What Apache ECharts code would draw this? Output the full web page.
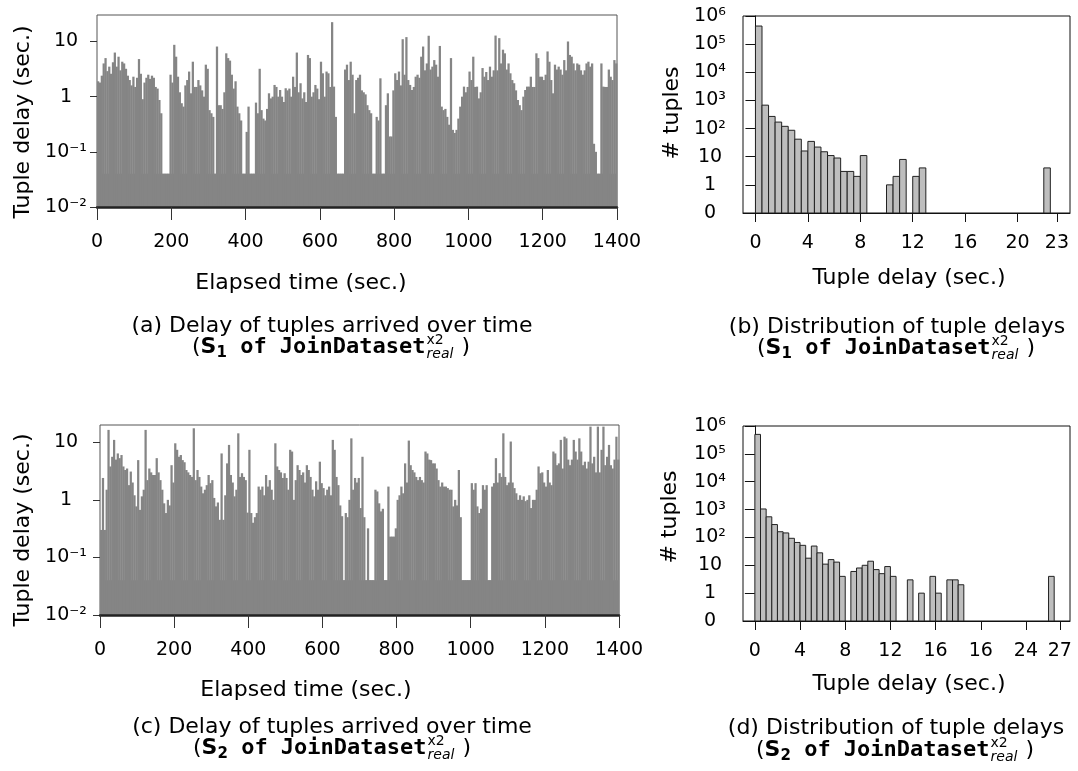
<!DOCTYPE html>
<html>
<head>
<meta charset="utf-8">
<script src="https://cdn.jsdelivr.net/npm/echarts@6/dist/echarts.min.js"></script>
<style>
  html, body { margin: 0; padding: 0; background: #fff; }
  #chart { width: 1078px; height: 771px; }
</style>
</head>
<body>
<div id="chart"></div>
<script>
// ---- data ----
// time series: max delay (sec.) in each 5 s bin, 0..1400 s
const binSec = 5;
const floorDelay = 0.04;
const delayS1 = [
  1.9,1.8,2.4,4.0,5.0,2.9,3.5,2.6,4.2,6.3,3.5,5.3,3.0,4.3,4.0,3.2,2.4,2.0,1.6,2.3,
  1.5,2.2,4.8,2.6,0.9,1.8,2.2,2.5,2.1,2.4,2.2,1.5,1.4,0.87,0.5,0.04,0.04,0.04,0.04,2.5,
  1.8,8.7,5.3,2.3,1.2,0.76,0.66,1.6,2.0,2.85,1.15,4.3,1.5,1.5,2.0,1.6,1.3,1.0,3.8,3.2,
  0.57,0.5,0.43,0.04,8.1,0.7,0.7,0.6,1.2,6.1,5.0,4.5,2.5,1.4,1.9,0.66,0.5,0.37,0.04,0.04,
  0.23,0.66,0.04,0.04,0.04,0.78,0.5,3.2,0.57,0.4,0.37,0.6,1.15,0.93,1.0,1.63,1.5,1.0,1.32,1.0,
  0.8,1.42,1.3,1.4,1.0,2.3,1.5,6.3,1.2,1.75,0.93,1.2,0.8,5.7,5.0,1.0,1.2,1.63,1.4,0.9,
  4.3,2.65,1.0,2.85,2.65,1.5,22.4,1.52,0.43,0.04,0.04,0.04,0.04,3.1,3.8,2.0,4.3,2.5,0.5,2.0,
  2.2,2.5,1.3,1.2,1.1,0.7,0.57,0.5,0.04,0.04,0.43,0.37,2.15,0.04,0.04,0.7,1.15,0.19,0.19,1.3,
  2.65,2.0,2.85,1.6,11,2.5,12,2.0,1.63,1.32,1.5,2.3,2.5,2.2,5.3,8.1,3.0,4.0,12.7,3.1,
  3.5,4.6,3.8,2.3,8.3,0.66,0.57,0.6,0.43,0.31,5.0,0.25,0.22,0.25,0.4,0.66,1.0,1.52,1.2,1.5,
  2.85,2.0,5.3,1.5,1.52,0.93,1.2,3.3,2.3,2.8,2.0,3.5,2.3,3.0,12.8,3.0,11.5,4.0,7.1,6.1,
  3.1,4.0,2.65,2.0,1.75,1.3,0.87,0.7,0.57,1.0,1.32,1.52,1.52,2.3,1.5,1.5,6.1,5.0,2.3,2.3,
  2.0,2.5,6.6,4.3,2.0,1.15,3.8,3.1,3.5,3.1,2.5,4.6,3.0,10,5.7,5.3,4.0,3.0,4.0,3.8,
  3.0,2.5,3.0,4.0,4.3,3.5,4.0,0.14,0.1,0.04,0.04,4.0,1.52,1.5,1.5,3.1,2.3,2.0,4.6,4.0
];
const delayS2 = [
  0.3,2.4,0.3,1.5,16.4,3.8,5.6,11,5.0,6.4,5.3,6.0,3.8,3.3,3.5,1.8,3.1,2.0,1.2,0.77,
  4.9,0.67,1.15,1.5,16.4,2.2,3.5,3.0,2.7,2.7,5.3,3.0,2.2,1.5,0.87,0.59,1.0,0.8,4.0,2.0,
  9.6,7.4,5.6,6.0,4.9,4.5,3.3,3.0,2.7,2.5,17.5,2.2,3.3,2.5,1.7,1.3,1.5,1.8,2.7,1.95,
  2.2,1.08,0.77,0.9,0.45,6.4,0.45,1.2,4.3,9.0,2.7,2.0,1.15,1.5,14.3,2.5,2.9,2.5,2.2,0.6,
  7.4,0.59,0.4,0.5,0.59,1.7,1.5,1.7,1.2,2.7,1.7,2.2,1.5,1.0,9.6,3.8,3.3,3.0,2.4,2.9,
  2.4,1.5,7.4,6.9,1.0,2.2,4.0,3.3,2.7,3.0,2.0,4.0,3.3,2.5,1.5,1.15,2.1,1.5,4.6,1.95,
  1.6,1.2,1.5,1.7,1.2,11,7.4,2.5,1.8,0.8,0.52,0.04,0.59,0.5,1.0,11.7,1.5,2.4,2.0,2.4,
  0.72,5.6,0.5,0.04,0.32,0.04,0.04,0.04,1.5,1.4,0.87,0.63,0.7,0.04,0.04,1.7,0.23,0.23,0.23,0.32,
  1.0,1.2,1.7,1.3,4.3,2.0,10.7,4.0,3.3,3.0,2.5,2.2,2.5,2.2,2.0,6.9,6.4,5.0,4.9,4.3,
  4.3,3.5,2.2,1.7,2.0,1.7,1.7,1.6,1.5,1.5,0.77,1.0,0.8,3.3,0.5,0.04,0.04,0.04,0.04,0.04,
  1.95,1.5,1.95,0.77,0.59,0.7,1.8,1.5,1.8,0.04,0.04,1.7,1.95,5.3,2.0,2.9,2.5,14.3,2.5,1.8,
  2.0,10.3,2.0,1.6,1.3,1.0,1.2,1.0,1.15,0.95,1.0,1.2,0.72,1.0,1.0,1.5,3.8,2.9,3.0,2.0,
  1.7,3.3,2.0,1.8,6.9,6.4,4.0,4.3,11,3.5,12.5,11.7,5.0,4.0,5.0,11,6.9,5.0,11.7,6.9,
  4.0,4.6,3.5,4.6,18.7,4.3,5.6,3.0,18.7,3.0,7.4,18.7,4.0,5.6,9.0,4.0,3.5,5.0,12.5,5.0
];

// histograms: 0.5 s bins (start of bin) and # tuples
const histBin = 0.5;
const binStartS1 = [0,0.5,1,1.5,2,2.5,3,3.5,4,4.5,5,5.5,6,6.5,7,7.5,8,10,10.5,11,12,12.5,22];
const countS1 = [440000,680,270,170,120,87,42,16,35,22,15,11,9,3,3,2,11,1,2,8,2,4,4];
const binStartS2 = [0,0.5,1,1.5,2,2.5,3,3.5,4,4.5,5,5.5,6,6.5,7,7.5,8.5,9,9.5,10,10.5,11,11.5,12,13.5,14.5,15.5,16,17,17.5,18,26];
const countS2 = [500000,1050,550,290,160,145,93,66,52,18,49,28,11,16,13,4,6,8,10,14,7,5,9,4,3,1,4,1,3,3,2,4];

// tick labels
const timeTicks = [0, 200, 400, 600, 800, 1000, 1200, 1400];
const delayTickText = ['10⁻²', '10⁻¹', '1', '10'];
const countTickText = ['0', '1', '10', '10²', '10³', '10⁴', '10⁵', '10⁶'];
const histTicksS1 = [0, 4, 8, 12, 16, 20, 23];
const histTickTextS1 = ['0', '4', '8', '12', '16', '20', '23'];
const histTicksS2 = [0, 4, 8, 12, 16, 20, 24, 27];
const histTickTextS2 = ['0', '4', '8', '12', '16', '16', '24', '27'];

// ---- helpers ----
const FONT = 'DejaVu Sans';
const MONO = 'DejaVu Sans Mono';
const GREY = '#858585';

// log scale done by hand so bars can sit on the bottom of the axis
const delayToY = v => Math.log10(v) + 2;      // 10^-2 -> 0
const countToY = n => (n > 0 ? Math.log10(n) + 1 : 0); // 0 -> 0, 1 -> 1, 10 -> 2 ...

// one spike per bin
function spikeItem(params, api) {
  const a = api.coord([api.value(0), api.value(2)]);
  const b = api.coord([api.value(1), 0]);
  return {
    type: 'rect',
    shape: { x: a[0], y: a[1], width: b[0] - a[0] + 0.4, height: b[1] - a[1] },
    style: { fill: GREY, stroke: 'none', lineWidth: 0 }
  };
}

function histItem(params, api) {
  const p0 = api.coord([api.value(0), api.value(2)]);
  const p1 = api.coord([api.value(1), 0]);
  return {
    type: 'rect',
    shape: { x: p0[0], y: p0[1], width: p1[0] - p0[0], height: p1[1] - p0[1] },
    style: { fill: '#bebebe', stroke: '#222', lineWidth: 1 }
  };
}

function timeAxes(gridIndex, yMax, labelMargin) {
  return {
    x: {
      type: 'value', gridIndex, min: 0, max: 1400, z: 5,
      axisLine: { lineStyle: { color: '#222', width: 2.5 } },
      axisTick: { customValues: timeTicks, length: 13, lineStyle: { color: '#333' } },
      axisLabel: {
        customValues: timeTicks, fontSize: 19, color: '#000', margin: 26, fontFamily: FONT,
        formatter: v => String(v)
      },
      splitLine: { show: false }
    },
    y: {
      type: 'value', gridIndex, min: 0, max: yMax,
      axisLine: { show: false },
      axisTick: { show: true, customValues: [0, 1, 2, 3], length: 7, lineStyle: { color: '#333' } },
      axisLabel: {
        customValues: [0, 1, 2, 3], fontSize: 19, color: '#000', align: 'center', margin: labelMargin,
        fontFamily: FONT, formatter: v => delayTickText[Math.round(v)]
      },
      splitLine: { show: false }
    }
  };
}

function histAxes(gridIndex, xMin, xMax, ticks, tickText) {
  return {
    x: {
      type: 'value', gridIndex, min: xMin, max: xMax, z: 5,
      axisLine: { lineStyle: { color: '#111', width: 1 } },
      axisTick: { customValues: ticks, length: 9, lineStyle: { color: '#111' } },
      axisLabel: {
        customValues: ticks, fontSize: 19, color: '#000', margin: 21, fontFamily: FONT,
        formatter: v => tickText[ticks.indexOf(v)]
      },
      splitLine: { show: false }
    },
    y: {
      type: 'value', gridIndex, min: 0, max: 7,
      axisLine: { show: true, lineStyle: { color: '#111' } },
      axisTick: { show: true, customValues: [0, 1, 2, 3, 4, 5, 6, 7], length: 10, lineStyle: { color: '#111' } },
      axisLabel: {
        customValues: [0, 1, 2, 3, 4, 5, 6, 7], fontSize: 19, color: '#000', align: 'center', margin: 33,
        fontFamily: FONT, formatter: v => countTickText[Math.round(v)]
      },
      splitLine: { show: false }
    }
  };
}

// caption second line: "(S1 of JoinDataset x2/real )"
const measureCtx = document.createElement('canvas').getContext('2d');
function textWidth(str, font) {
  measureCtx.font = font;
  return measureCtx.measureText(str).width;
}
function captionLine2(cx, cy, sub) {
  const parts = [
    { text: '(', font: `22px "${FONT}"`, dy: 0 },
    { text: 'S', font: `bold 22px "${FONT}"`, dy: 0 },
    { text: sub, font: `bold 15px "${FONT}"`, dy: 6 },
    { text: ' of JoinDataset', font: `bold 22px "${MONO}"`, dy: 0 },
    { stack: [
      { text: 'x2', font: `14px "${FONT}"`, dy: -7 },
      { text: 'real', font: `italic 14px "${FONT}"`, dy: 7 }
    ] },
    { text: ' )', font: `22px "${FONT}"`, dy: 0 }
  ];
  const widths = parts.map(p => p.stack
    ? Math.max(...p.stack.map(s => textWidth(s.text, s.font))) + 2
    : textWidth(p.text, p.font));
  const total = widths.reduce((a, b) => a + b, 0);
  let x = cx - total / 2;
  const els = [];
  parts.forEach((p, i) => {
    const list = p.stack ? p.stack : [p];
    list.forEach(s => {
      els.push({
        type: 'text', x: x + (p.stack ? 1 : 0), y: cy + s.dy,
        style: { text: s.text, font: s.font, fill: '#000', textAlign: 'left', textVerticalAlign: 'middle' }
      });
    });
    x += widths[i];
  });
  return els;
}

function label(text, x, y, rotate) {
  return {
    type: 'text', x, y, rotation: rotate ? Math.PI / 2 : 0,
    style: { text, font: `22px "${FONT}"`, fill: '#000', textAlign: 'center', textVerticalAlign: 'middle' }
  };
}

function timeSeries(axisIndex, values) {
  return {
    type: 'custom', xAxisIndex: axisIndex, yAxisIndex: axisIndex, renderItem: spikeItem,
    encode: { x: [0, 1], y: 2 },
    data: values.map((v, i) => [i * binSec, (i + 1) * binSec, delayToY(v)]),
    // the floor delay every tuple has, drawn as one solid band
    markArea: {
      silent: true,
      itemStyle: { color: GREY, opacity: 1, borderWidth: 0 },
      data: [[{ yAxis: 0 }, { yAxis: delayToY(floorDelay) }]]
    }
  };
}

function histSeries(axisIndex, starts, counts) {
  return {
    type: 'custom', xAxisIndex: axisIndex, yAxisIndex: axisIndex, renderItem: histItem,
    encode: { x: [0, 1], y: 2 },
    data: starts.map((s, i) => [s, s + histBin, countToY(counts[i])])
  };
}

// ---- option ----
const axA = timeAxes(0, 3.48, 31);
const axB = histAxes(1, -0.95, 24, histTicksS1, histTickTextS1);
const axC = timeAxes(2, 3.30, 34);
const axD = histAxes(3, -1.05, 27.9, histTicksS2, histTickTextS2);

const option = {
  animation: false,
  backgroundColor: '#fff',
  textStyle: { fontFamily: FONT },
  grid: [
    { left: 97, top: 15, width: 520, height: 192, show: true, borderColor: '#555', borderWidth: 1 },
    { left: 743, top: 16, width: 327, height: 197, show: true, borderColor: '#111', borderWidth: 1 },
    { left: 100, top: 425, width: 519, height: 190, show: true, borderColor: '#555', borderWidth: 1 },
    { left: 743, top: 426, width: 327, height: 195, show: true, borderColor: '#111', borderWidth: 1 }
  ],
  xAxis: [axA.x, axB.x, axC.x, axD.x],
  yAxis: [axA.y, axB.y, axC.y, axD.y],
  series: [
    timeSeries(0, delayS1),
    histSeries(1, binStartS1, countS1),
    timeSeries(2, delayS2),
    histSeries(3, binStartS2, countS2)
  ],
  graphic: {
    elements: [
      label('Tuple delay (sec.)', 23, 122, true),
      label('Elapsed time (sec.)', 301, 283),
      label('(a) Delay of tuples arrived over time', 332, 326),
      ...captionLine2(331, 347, '1'),

      label('# tuples', 672, 113, true),
      label('Tuple delay (sec.)', 909, 278),
      label('(b) Distribution of tuple delays', 897, 327),
      ...captionLine2(896, 348, '1'),

      label('Tuple delay (sec.)', 23, 530, true),
      label('Elapsed time (sec.)', 306, 690),
      label('(c) Delay of tuples arrived over time', 332, 727),
      ...captionLine2(332, 748, '2'),

      label('# tuples', 670, 517, true),
      label('Tuple delay (sec.)', 909, 684),
      label('(d) Distribution of tuple delays', 896, 728),
      ...captionLine2(895, 750, '2')
    ]
  }
};

const chart = echarts.init(document.getElementById('chart'));
chart.setOption(option);
</script>
</body>
</html>
